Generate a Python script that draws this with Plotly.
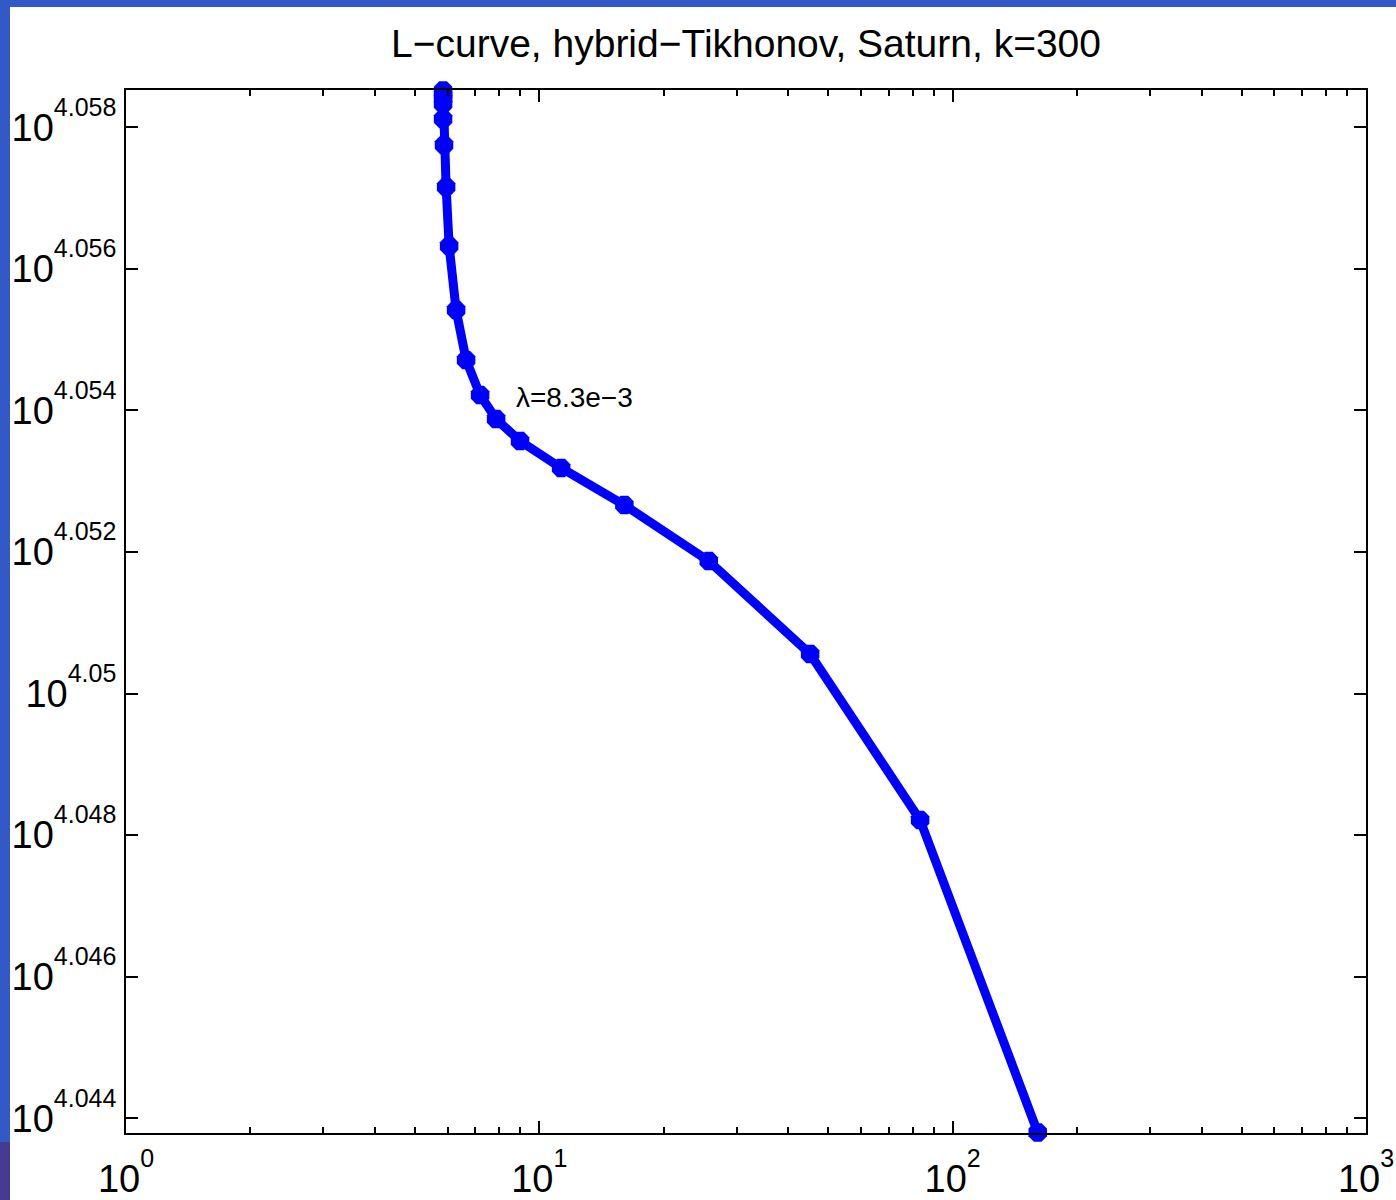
import numpy as np
import plotly.graph_objects as go

# L-curve samples: residual norm (x) and solution norm (y)
residual_norm = [160.6, 83.4, 45.2, 25.7, 16.06, 11.29, 8.98, 7.86, 7.19, 6.65,
                 6.29, 6.05, 5.95, 5.88, 5.85, 5.85, 5.85, 5.85, 5.85]
solution_exp = [4.04380, 4.048214, 4.050559, 4.051873, 4.052664, 4.053187, 4.053568,
                4.053879, 4.054218, 4.054713, 4.055419, 4.056323, 4.057157, 4.05775,
                4.058117, 4.05833, 4.05840, 4.05846, 4.05852]
solution_norm = [10 ** e for e in solution_exp]

# corner label
corner_text = "λ=8.3e−3"
corner_x = 8.69
corner_y = 10 ** 4.054176

x_tick_exps = [0, 1, 2, 3]
y_tick_exps = ["4.044", "4.046", "4.048", "4.05", "4.052", "4.054", "4.056", "4.058"]

BLUE = "#0000ff"
FONT = "Liberation Sans, Arial, sans-serif"


def power_label(exp):
    return ("10<sup><span style='font-size:25px;baseline-shift:9px'>%s</span></sup>"
            % exp)


fig = go.Figure()
fig.add_trace(go.Scatter(
    x=residual_norm, y=solution_norm, mode="lines+markers",
    line=dict(color=BLUE, width=9),
    marker=dict(symbol="octagon", size=20, color=BLUE, line=dict(width=0)),
    cliponaxis=False, showlegend=False, hoverinfo="skip",
))

fig.add_annotation(x=np.log10(corner_x), y=np.log10(corner_y), text=corner_text,
                   showarrow=False, xanchor="left", yanchor="middle",
                   font=dict(family=FONT, size=28, color="black"))

minor_vals = [m * 10 ** d for d in range(0, 3) for m in range(2, 10)]

fig.update_xaxes(
    type="log", range=[0, 3], automargin=False,
    tickmode="array", tickvals=[10 ** e for e in x_tick_exps],
    ticktext=[power_label(e) for e in x_tick_exps],
    ticks="inside", ticklen=12, tickwidth=1.5, tickcolor="black",
    ticklabelstandoff=11,
    minor=dict(tickmode="array", tickvals=minor_vals, ticks="inside", ticklen=6,
               tickwidth=1.5, tickcolor="black", showgrid=False),
    showline=True, linecolor="black", linewidth=2, mirror="allticks",
    showgrid=False, zeroline=False,
    tickfont=dict(family=FONT, size=38, color="black"),
)
fig.update_yaxes(
    type="log", range=[4.043792, 4.058527], automargin=False,
    tickmode="array", tickvals=[10 ** float(e) for e in y_tick_exps],
    ticktext=[power_label(e) for e in y_tick_exps],
    ticks="inside", ticklen=12, tickwidth=1.5, tickcolor="black",
    showline=True, linecolor="black", linewidth=2, mirror="allticks",
    showgrid=False, zeroline=False,
    tickfont=dict(family=FONT, size=38, color="black"),
)

# slide frame strips along the top and left edges
L, R, T, B = 126, 30, 90, 67
W, H = 1396, 1200
pw, ph = W - L - R, H - T - B


def px_x(px):
    return (px - L) / pw


def px_y(py):
    return (H - B - py) / ph


frame = [
    (0, 0, 10, 1142, "#3259c6"),
    (0, 1142, 10, 1200, "#463a92"),
    (0, 0, 1396, 7, "#3259c6"),
]
shapes = []
for x0, y0, x1, y1, col in frame:
    shapes.append(dict(type="rect", xref="paper", yref="paper",
                       x0=px_x(x0), x1=px_x(x1), y0=px_y(y1), y1=px_y(y0),
                       fillcolor=col, line=dict(width=0), layer="above"))

fig.update_layout(
    width=W, height=H,
    margin=dict(l=L, r=R, t=T, b=B, autoexpand=False),
    paper_bgcolor="white", plot_bgcolor="white",
    shapes=shapes,
    title=dict(text="L−curve, hybrid−Tikhonov, Saturn, k=300",
               x=0.5, xref="paper", xanchor="center",
               y=1 - 43.7 / H, yref="container", yanchor="middle",
               font=dict(family=FONT, size=39, color="black")),
)

fig.write_html("out.html")
